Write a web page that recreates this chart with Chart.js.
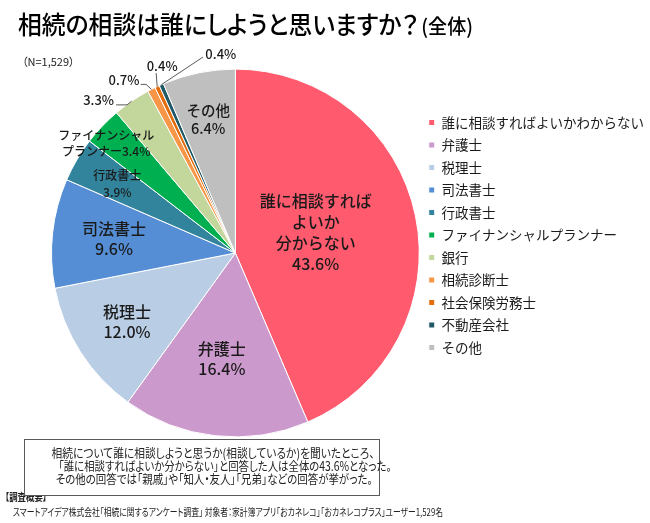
<!DOCTYPE html>
<html lang="ja">
<head>
<meta charset="utf-8">
<title>相続の相談は誰にしようと思いますか？（全体）</title>
<script src="https://cdn.jsdelivr.net/npm/chart.js@4.4.1/dist/chart.umd.min.js"></script>
<style>
  body { margin: 0; background: #fff; font-family: 'Noto Sans CJK JP', sans-serif; color: #111; }
  #wrap { position: relative; width: 650px; height: 523px; overflow: hidden; }
  #chart { position: absolute; left: 0; top: 0; }
  .txt { position: absolute; white-space: nowrap; font-feature-settings: "palt"; line-height: 1; transform-origin: left center; }
  #title { left: 18px; top: 11px; font-size: 25px; font-weight: 500; color: #000; }
  #title small { font-size: 20px; margin-left: 3px; }
  #nlabel { left: 22px; top: 56px; font-size: 11px; color: #222; }
  #note { position: absolute; left: 24px; top: 439px; width: 354px; height: 49px; border: 1.5px solid #595959;
          background: #fff; color: #222; z-index: 2; padding-top: 6px; box-sizing: content-box; }
  #note div { white-space: nowrap; font-size: 12.5px; line-height: 13px; text-align: center;
              font-feature-settings: "palt"; }
  #note span { display: inline-block; transform-origin: center center; }
  #foot1 { left: 5px; top: 492px; font-size: 10px; font-weight: 700; color: #222; }
  #foot2 { left: 13px; top: 507px; font-size: 10.5px; color: #222; }
</style>
</head>
<body>
<div id="wrap">
  <canvas id="chart" width="650" height="523"></canvas>
  <div id="title" class="txt" data-w="455">相続の相談は誰にしようと思いますか？<small>(全体)</small></div>
  <div id="nlabel" class="txt">（N=1,529）</div>
  <div id="note">
    <div><span data-w="323">相続について誰に相談しようと思うか(相談しているか)を聞いたところ、</span></div>
    <div><span data-w="333">「誰に相談すればよいか分からない」と回答した人は全体の43.6%となった。</span></div>
    <div><span data-w="317">その他の回答では「親戚」や「知人・友人」「兄弟」などの回答が挙がった。</span></div>
  </div>
  <div id="foot1" class="txt" data-w="42">【調査概要】</div>
  <div id="foot2" class="txt" data-w="430">スマートアイデア株式会社「相続に関するアンケート調査」 対象者：家計簿アプリ「おカネレコ」「おカネレコプラス」ユーザー1,529名</div>
</div>
<script>
// categories and shares (%)
const categories = ["誰に相談すればよいかわからない", "弁護士", "税理士", "司法書士", "行政書士",
    "ファイナンシャルプランナー", "銀行", "相続診断士", "社会保険労務士", "不動産会社", "その他"];
const shares = [43.6, 16.4, 12.0, 9.6, 3.9, 3.4, 3.3, 0.7, 0.4, 0.4, 6.4];
// text drawn on / next to each slice, {v} = share
const sliceText = [
    ["誰に相談すれば", "よいか", "分からない", "{v}"],
    ["弁護士", "{v}"],
    ["税理士", "{v}"],
    ["司法書士", "{v}"],
    ["行政書士", "{v}"],
    ["ファイナンシャル", "プランナー{v}"],
    ["{v}"], ["{v}"], ["{v}"], ["{v}"],
    ["その他", "{v}"]
];

const colors = ["#FF5A6E", "#CC99CC", "#B9CDE5", "#558ED5", "#31849B", "#00B050",
    "#C3D69B", "#F79646", "#E46C0A", "#215967", "#BFBFBF"];

// label placement: inside = radius fraction + angle nudge, outside = leader offsets from the arc edge
const labelStyle = [
    { inside: true, frac: 0.45, dAng: -2.5, size: 16, lh: 21 },
    { inside: true, frac: 0.58, dAng: 1, size: 16, lh: 20 },
    { inside: true, frac: 0.70, dAng: 0, size: 16, lh: 20 },
    { inside: true, frac: 0.665, dAng: 0.5, size: 16, lh: 20 },
    { inside: true, frac: 0.745, dAng: 0, size: 12, lh: 17 },
    { inside: true, frac: 0.92, dAng: -3.4, size: 12, lh: 16 },
    { inside: false, size: 13, leader: [[-4.6, 3.7], [-15.6, 3.7]], text: [-17.6, -1.6], align: "right" },
    { inside: false, size: 13, leader: [[-5.4, -5], [-10.7, -5]], text: [-12, -9.5], align: "right" },
    { inside: false, size: 13, leader: [[-1, -13.5]], text: [5, -21], align: "center" },
    { inside: false, size: 13, leader: [[41.6, -27.6]], text: [44, -31], align: "left" },
    { inside: true, frac: 0.74, dAng: 0, size: 14.5, lh: 18 }
];

// squeeze html texts to the widths they take in the original
document.querySelectorAll("[data-w]").forEach(el => {
    const w = el.getBoundingClientRect().width;
    el.style.transform = "scaleX(" + (Number(el.dataset.w) / w) + ")";
});

const pieLabels = {
    id: "pieLabels",
    afterDatasetsDraw(chart) {
        const ctx = chart.ctx;
        const meta = chart.getDatasetMeta(0);
        meta.data.forEach((arc, i) => {
            const p = arc.getProps(["x", "y", "startAngle", "endAngle", "outerRadius"], true);
            const mid = (p.startAngle + p.endAngle) / 2;
            const st = labelStyle[i];
            const lines = sliceText[i].map(t => t.replace("{v}", shares[i].toFixed(1) + "%"));
            ctx.save();
            ctx.fillStyle = "#1a1a1a";
            ctx.font = "500 " + st.size + "px 'Noto Sans CJK JP'";
            ctx.textBaseline = "middle";
            if (st.inside) {
                const a = mid + st.dAng * Math.PI / 180;
                const cx = p.x + Math.cos(a) * p.outerRadius * st.frac;
                const cy = p.y + Math.sin(a) * p.outerRadius * st.frac;
                const h = st.lh * (lines.length - 1);
                ctx.textAlign = "center";
                lines.forEach((t, k) => ctx.fillText(t, cx, cy - h / 2 + k * st.lh));
            } else {
                const ax = p.x + Math.cos(mid) * p.outerRadius;
                const ay = p.y + Math.sin(mid) * p.outerRadius;
                ctx.strokeStyle = "#595959";
                ctx.lineWidth = 1;
                ctx.beginPath();
                ctx.moveTo(ax, ay);
                st.leader.forEach(([dx, dy]) => ctx.lineTo(ax + dx, ay + dy));
                ctx.stroke();
                ctx.textAlign = st.align;
                ctx.fillText(lines[0], ax + st.text[0], ay + st.text[1]);
            }
            ctx.restore();
        });
    }
};

Chart.defaults.font.family = "'Noto Sans CJK JP', sans-serif";

new Chart(document.getElementById("chart").getContext("2d"), {
    type: "pie",
    data: {
        labels: categories,
        datasets: [{
            data: shares,
            backgroundColor: colors,
            borderColor: "#fff",
            borderWidth: 1
        }]
    },
    options: {
        responsive: false,
        animation: false,
        layout: { padding: { top: 68, bottom: 85, left: 51, right: -4 } },
        plugins: {
            tooltip: { enabled: false },
            legend: {
                position: "right",
                align: "start",
                title: { display: true, text: " ", font: { size: 10 }, padding: { top: 0, bottom: 26.75 } },
                labels: {
                    boxWidth: 6,
                    boxHeight: 6,
                    padding: 9,
                    color: "#1a1a1a",
                    font: { size: 13.5 }
                }
            }
        }
    },
    plugins: [pieLabels]
});
</script>
</body>
</html>
